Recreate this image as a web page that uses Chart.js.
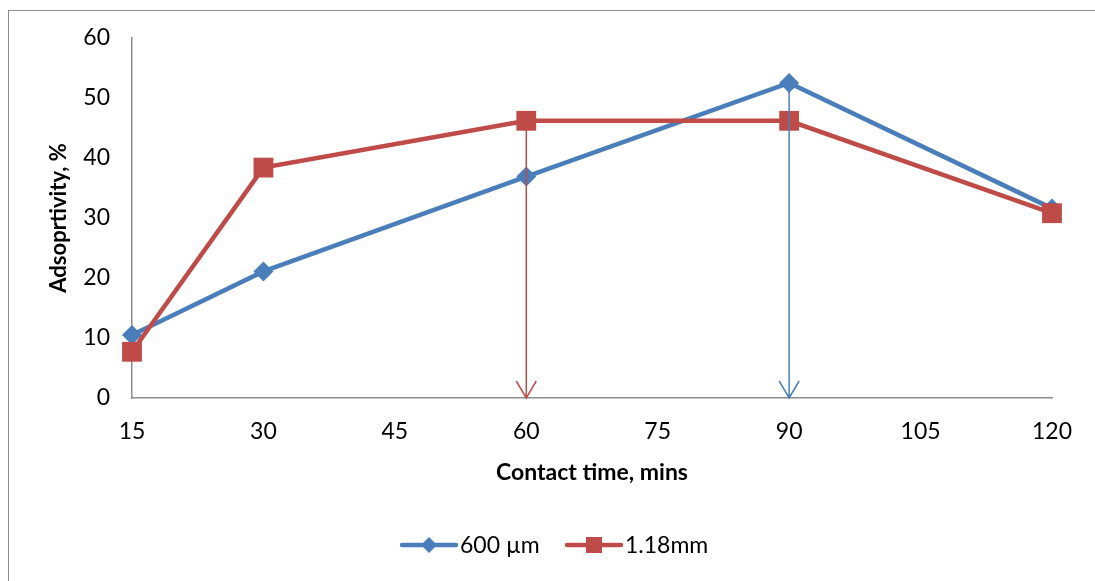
<!DOCTYPE html>
<html>
<head>
<meta charset="utf-8">
<script src="https://cdn.jsdelivr.net/npm/chart.js@4"></script>
<style>
  body { margin: 0; background: #fff; }
  #wrap { position: relative; width: 1095px; height: 581px; overflow: hidden; }
  #frame { position: absolute; left: 8px; top: 10px; width: 1200px; height: 700px; border: 1px solid #8c8c8c; }
  canvas { position: absolute; left: 0; top: 0; }
</style>
</head>
<body>
<div id="wrap">
  <div id="frame"></div>
  <canvas id="chart" width="1095" height="581"></canvas>
</div>
<script>
// Contact time (mins) on the x axis
const contactTimes = [15, 30, 60, 90, 120];
const xTicks = [15, 30, 45, 60, 75, 90, 105, 120];

// Adsorptivity (%) per particle size
const series600um = [10.5, 21.1, 36.9, 52.5, 31.6];
const series118mm = [7.7, 38.4, 46.2, 46.2, 30.8];

// Vertical arrows marking the optimum contact time
const arrowTimes = [60, 90];
const arrowTops = [46.2, 52.5];

const blue = '#4a7ebb';
const red = '#be4b48';
const arrowColors = [red, blue];

function toPoints(values) {
  return contactTimes.map((t, i) => ({ x: t, y: values[i] }));
}

// Draw the arrows on top of the series
const arrowPlugin = {
  id: 'arrows',
  afterDatasetsDraw(chart) {
    const ctx = chart.ctx;
    const xs = chart.scales.x;
    const ys = chart.scales.y;
    ctx.save();
    ctx.lineWidth = 1.5;
    arrowTimes.forEach((t, i) => {
      const x = xs.getPixelForValue(t);
      const y1 = ys.getPixelForValue(arrowTops[i]);
      const y2 = ys.getPixelForValue(0);
      ctx.strokeStyle = arrowColors[i];
      ctx.beginPath();
      ctx.moveTo(x, y1);
      ctx.lineTo(x, y2);
      ctx.moveTo(x - 10, y2 - 17);
      ctx.lineTo(x, y2);
      ctx.lineTo(x + 10, y2 - 17);
      ctx.stroke();
    });
    ctx.restore();
  }
};

// Legend drawn like the spreadsheet one: line with marker, then label
const legendPlugin = {
  id: 'lineLegend',
  afterDraw(chart) {
    const ctx = chart.ctx;
    const y = 545;
    const items = [
      { x: 402, label: '600 µm', color: blue, shape: 'diamond' },
      { x: 567, label: '1.18mm', color: red, shape: 'square' }
    ];
    ctx.save();
    ctx.font = '23px Lato';
    ctx.textBaseline = 'middle';
    items.forEach(it => {
      ctx.strokeStyle = it.color;
      ctx.fillStyle = it.color;
      ctx.lineWidth = 4.5;
      ctx.lineCap = 'round';
      ctx.beginPath();
      ctx.moveTo(it.x, y);
      ctx.lineTo(it.x + 54, y);
      ctx.stroke();
      const cx = it.x + 27;
      ctx.beginPath();
      if (it.shape === 'diamond') {
        ctx.moveTo(cx, y - 8);
        ctx.lineTo(cx + 8, y);
        ctx.lineTo(cx, y + 8);
        ctx.lineTo(cx - 8, y);
        ctx.closePath();
      } else {
        ctx.rect(cx - 8, y - 8, 16, 16);
      }
      ctx.fill();
      ctx.fillStyle = '#000';
      ctx.fillText(it.label, it.x + 58, y + 1);
    });
    ctx.restore();
  }
};

const ctx = document.getElementById('chart').getContext('2d');
new Chart(ctx, {
  type: 'line',
  data: {
    datasets: [
      {
        label: '600 µm',
        data: toPoints(series600um),
        borderColor: blue,
        backgroundColor: blue,
        borderWidth: 4.5,
        pointStyle: 'rectRot',
        pointRadius: 10,
        pointBorderWidth: 0,
        clip: false,
        order: 1
      },
      {
        label: '1.18mm',
        data: toPoints(series118mm),
        borderColor: red,
        backgroundColor: red,
        borderWidth: 4.5,
        pointStyle: 'rect',
        pointRadius: 14,
        pointBorderWidth: 0,
        clip: false,
        order: 0
      }
    ]
  },
  options: {
    responsive: false,
    animation: false,
    events: [],
    layout: { padding: { left: 42, right: 43, top: 38, bottom: 93 } },
    plugins: {
      legend: { display: false },
      tooltip: { enabled: false }
    },
    scales: {
      x: {
        type: 'linear',
        min: 15,
        max: 120,
        afterBuildTicks: scale => { scale.ticks = xTicks.map(v => ({ value: v })); },
        grid: { display: false, drawTicks: false },
        border: { color: '#8c8c8c', width: 1.5 },
        ticks: { color: '#000', font: { family: 'Lato', size: 23 }, padding: 20, maxRotation: 0 },
        title: {
          display: true,
          text: 'Contact time, mins',
          color: '#000',
          font: { family: 'Lato', size: 23, weight: 'bold' },
          padding: { top: 2, bottom: 2 }
        },
        afterFit: scale => { scale.height = 90; }
      },
      y: {
        min: 0,
        max: 60,
        ticks: { stepSize: 10, color: '#000', font: { family: 'Lato', size: 23 }, padding: 22 },
        grid: { display: false, drawTicks: false },
        border: { color: '#8c8c8c', width: 1.5 },
        title: {
          display: true,
          text: 'Adsoprtivity, %',
          color: '#000',
          font: { family: 'Lato', size: 22, weight: 'bold' },
          padding: { top: 4, bottom: 4 }
        },
        afterFit: scale => { scale.width = 90; }
      }
    }
  },
  plugins: [arrowPlugin, legendPlugin]
});
</script>
</body>
</html>
